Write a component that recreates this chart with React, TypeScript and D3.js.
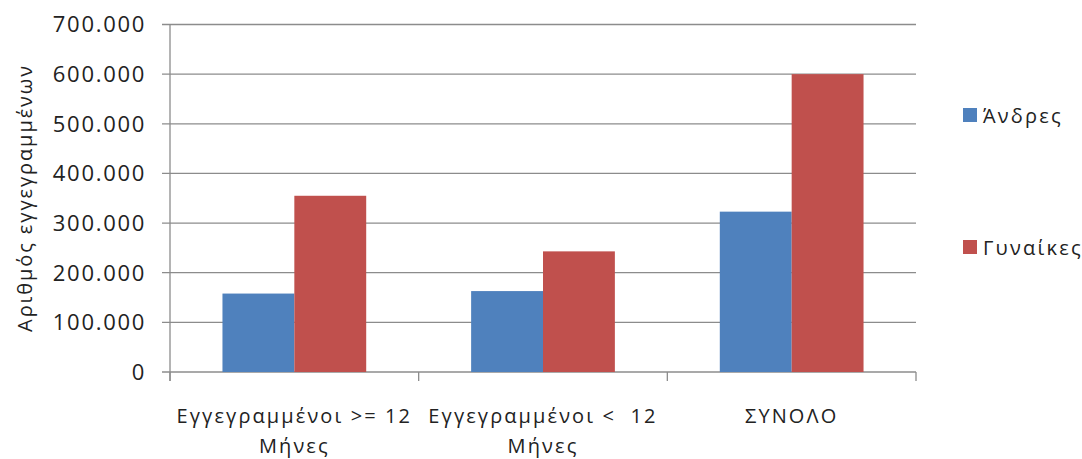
import React from "react";
import * as d3 from "d3";

const categories = ["Εγγεγραμμένοι >= 12|Μήνες", "Εγγεγραμμένοι <  12|Μήνες", "ΣΥΝΟΛΟ"];
const seriesNames = ["Άνδρες", "Γυναίκες"];
const men = [158000, 163000, 323000];
const women = [355000, 243000, 600000];
const yTicks = [0, 100000, 200000, 300000, 400000, 500000, 600000, 700000];
const colors = ["#4F81BD", "#C0504D"];

const FONT = "'Open Sans', sans-serif";

export default function App() {
  const W = 1082, H = 459;
  const left = 170, right = 916, top = 24.5, bottom = 372;
  const y = d3.scaleLinear().domain([0, 700000]).range([bottom, top]);
  const x0 = d3.scaleBand<string>().domain(categories).range([left, right]).paddingInner(0).paddingOuter(0);
  const x1 = d3.scaleBand<string>().domain(seriesNames).range([0, x0.bandwidth()]).paddingInner(0).paddingOuter(0.73);
  const locale = d3.formatLocale({ decimal: ",", thousands: ".", grouping: [3], currency: ["", "€"] });
  const fmt = locale.format(",d");
  const values = [men, women];
  const gridColor = "#8c8c8c";

  return (
    <svg width={W} height={H} style={{ position: "absolute", left: 0, top: 0, background: "#fff" }}>
      {yTicks.map((t) => (
        <g key={t}>
          <line x1={left - 8} x2={right} y1={y(t)} y2={y(t)} stroke={gridColor} strokeWidth={1.3} />
          <text x={146} y={y(t)} dy="0.36em" textAnchor="end" fontFamily={FONT} fontSize={22} letterSpacing={1.7} fill="#222">
            {fmt(t)}
          </text>
        </g>
      ))}
      <line x1={left} x2={left} y1={top} y2={bottom + 9} stroke={gridColor} strokeWidth={1.3} />
      {[...categories.map((c) => x0(c) as number), right].map((xx, i) => (
        <line key={i} x1={xx} x2={xx} y1={bottom} y2={bottom + 9} stroke={gridColor} strokeWidth={1.3} />
      ))}
      {categories.map((c, ci) => (
        <g key={c} transform={`translate(${x0(c)},0)`}>
          {seriesNames.map((s, si) => (
            <rect key={s} x={x1(s)} width={x1.bandwidth()} y={y(values[si][ci])} height={bottom - y(values[si][ci])} fill={colors[si]} />
          ))}
          {c.split("|").map((line, li) => (
            <text key={li} x={x0.bandwidth() / 2} y={423 + li * 30} textAnchor="middle" fontFamily={FONT} fontSize={20} letterSpacing={2.1} fill="#222" style={{ whiteSpace: "pre" }}>
              {line}
            </text>
          ))}
        </g>
      ))}
      <text transform={`translate(32,198) rotate(-90)`} textAnchor="middle" fontFamily={FONT} fontSize={20} letterSpacing={1.9} fill="#222">
        Αριθμός εγγεγραμμένων
      </text>
      {seriesNames.map((s, i) => (
        <g key={s} transform={`translate(963,${108 + i * 132})`}>
          <rect x={0} y={0} width={14} height={14} fill={colors[i]} />
          <text x={20} y={15} fontFamily={FONT} fontSize={20} letterSpacing={2.2} fill="#222">
            {s}
          </text>
        </g>
      ))}
    </svg>
  );
}
